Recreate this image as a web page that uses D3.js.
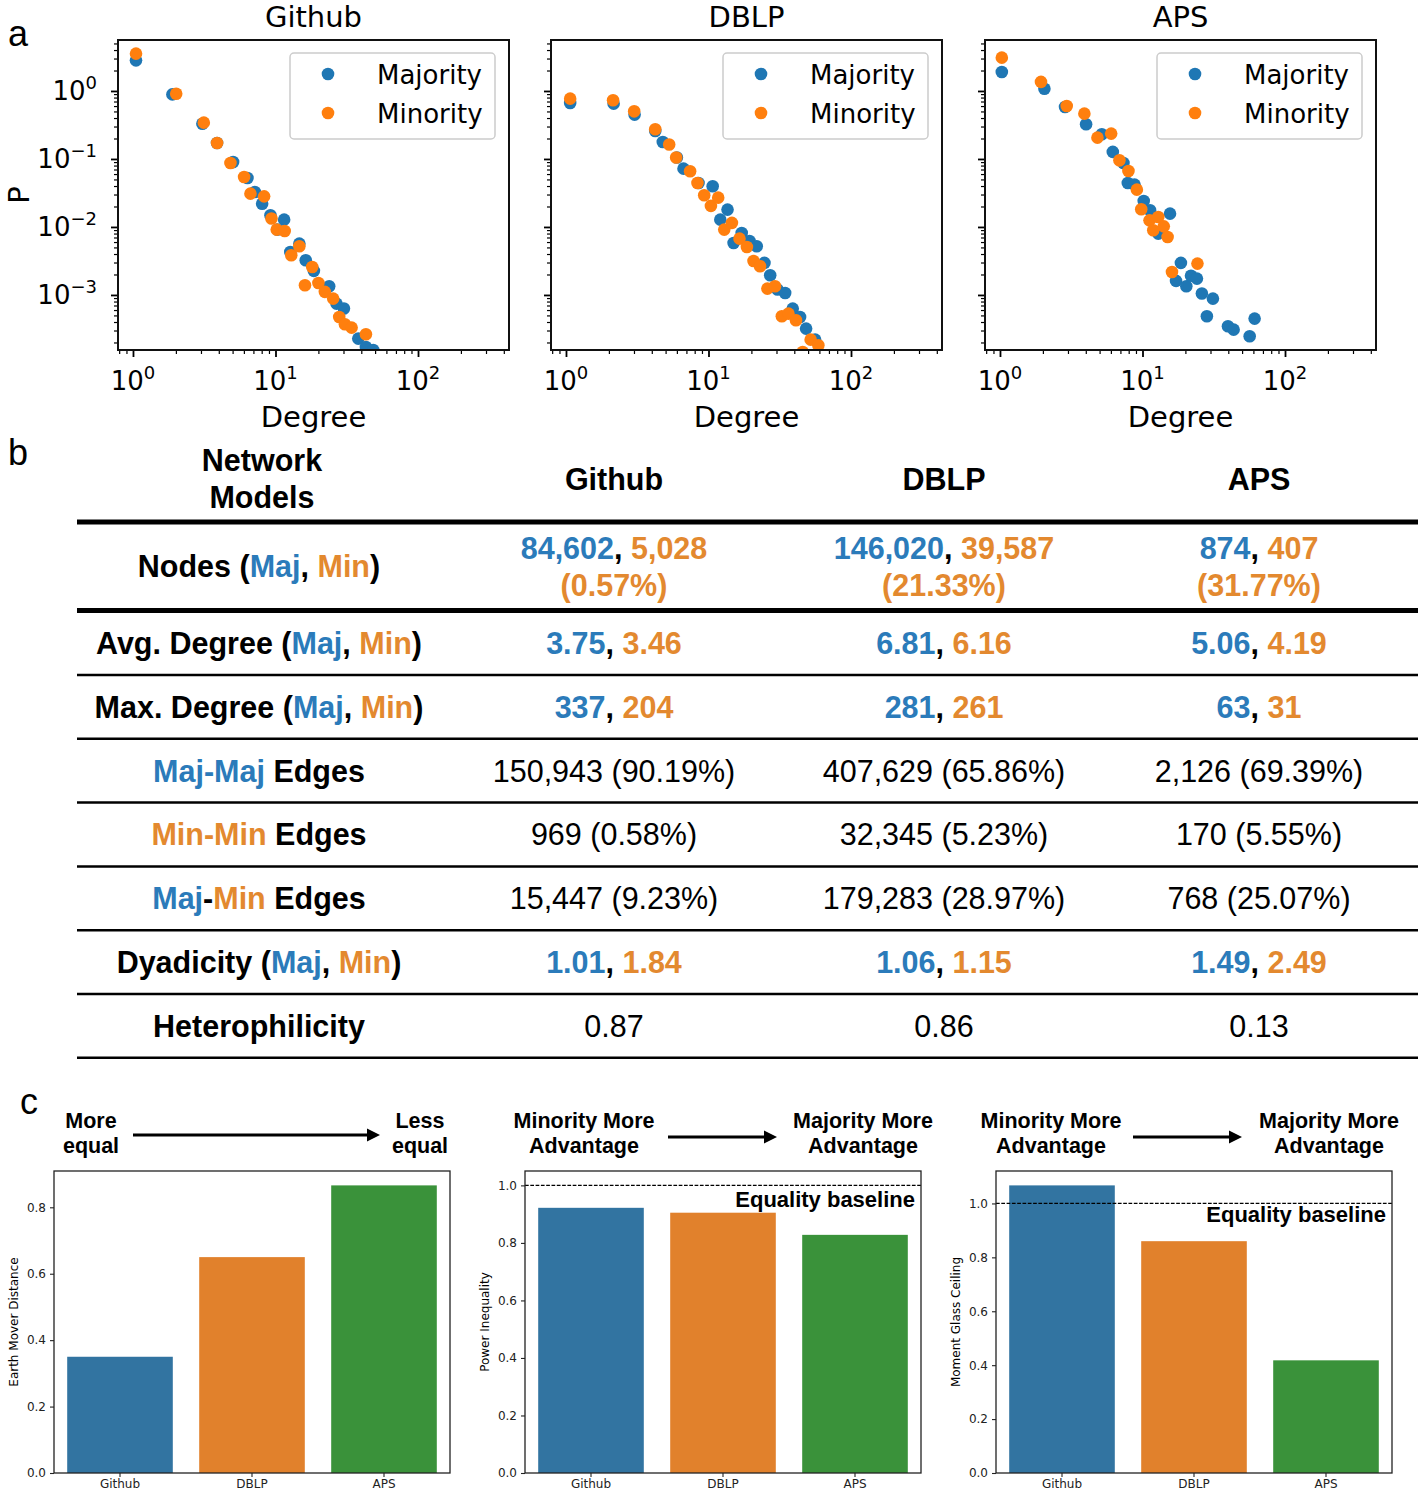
<!DOCTYPE html>
<html>
<head>
<meta charset="utf-8">
<script src="https://cdn.jsdelivr.net/npm/d3@7"></script>
<style>
    body { margin: 0; background: #fff; }
    svg { display: block; }
</style>
</head>
<body>
<svg id="fig" width="1424" height="1492"></svg>
<script>
/** ------------- DATA -------------- */

const networks = ["Github", "DBLP", "APS"];

// panel a: degree distributions, [degree, P]
const githubMaj = [[1.05, 2.82], [1.89, 0.89], [3.07, 0.33], [3.89, 0.172], [5.04, 0.09], [6.36, 0.0526], [7.16, 0.0327], [8.06, 0.022], [9.22, 0.0149], [10.3, 0.00914], [11.5, 0.0128], [12.7, 0.00429], [14.7, 0.00569], [16.3, 0.00324], [18.6, 0.00226], [23.8, 0.00134], [26.8, 0.000746], [30.2, 0.000631], [38.1, 0.000228], [43.1, 0.000172], [48.5, 0.000155]];
const githubMin = [[1.05, 3.54], [2.01, 0.91], [3.14, 0.342], [3.89, 0.172], [4.83, 0.0873], [6.02, 0.0543], [6.67, 0.0309], [8.32, 0.0282], [9.37, 0.0133], [10.2, 0.00914], [11.6, 0.00873], [12.9, 0.00383], [14.7, 0.0052], [16.1, 0.00139], [18.1, 0.00258], [20.0, 0.0015], [22.2, 0.00111], [25.4, 0.000883], [28.0, 0.000475], [30.7, 0.000371], [34.2, 0.000331], [43.1, 0.000264]];
const dblpMaj = [[1.07, 0.667], [2.16, 0.651], [3.03, 0.449], [4.23, 0.258], [4.78, 0.178], [6.0, 0.105], [6.68, 0.0721], [8.51, 0.0444], [10.7, 0.0396], [12.1, 0.0128], [13.6, 0.018], [15.0, 0.00582], [17.1, 0.00816], [19.4, 0.00622], [21.8, 0.0052], [24.7, 0.00296], [27.1, 0.00195], [30.5, 0.0012], [34.5, 0.00107], [39.0, 0.00063], [43.9, 0.000475], [48.4, 0.00032], [56.0, 0.00022]];
const dblpMin = [[1.07, 0.771], [2.14, 0.73], [3.01, 0.502], [4.23, 0.273], [5.3, 0.163], [5.93, 0.105], [7.43, 0.0659], [8.37, 0.0444], [9.33, 0.0292], [10.4, 0.0204], [11.7, 0.027], [12.9, 0.00914], [14.6, 0.0115], [16.5, 0.00673], [18.6, 0.00508], [20.7, 0.00316], [23.0, 0.00264], [25.9, 0.00124], [29.3, 0.00134], [32.7, 0.000485], [36.4, 0.000531], [41.1, 0.000424], [45.8, 0.000145], [52.1, 0.00022], [59.0, 0.000182]];
const apsMaj = [[1.03, 1.9], [2.05, 1.08], [2.86, 0.582], [4.02, 0.324], [5.18, 0.231], [6.19, 0.127], [7.35, 0.0873], [7.89, 0.0444], [8.79, 0.042], [10.2, 0.0241], [11.3, 0.0176], [12.9, 0.00798], [15.6, 0.0157], [17.2, 0.00161], [18.6, 0.00296], [20.3, 0.00134], [21.9, 0.00192], [24.1, 0.00174], [26.1, 0.00105], [28.3, 0.000485], [31.2, 0.000883], [39.8, 0.000346], [43.6, 0.000309], [56.5, 0.000247], [61.2, 0.000449]];
const apsMin = [[1.03, 3.09], [1.94, 1.36], [2.94, 0.601], [3.91, 0.464], [4.83, 0.206], [6.03, 0.236], [6.89, 0.0955], [7.97, 0.0666], [9.13, 0.0354], [9.8, 0.0182], [11.2, 0.0125], [11.9, 0.00893], [12.9, 0.014], [14.1, 0.0102], [15.0, 0.00713], [16.1, 0.00218], [24.3, 0.00289]];

// panel b: network statistics (Github, DBLP, APS)
const nodesMaj = [84602, 146020, 874];
const nodesMin = [5028, 39587, 407];
const minShare = [0.57, 21.33, 31.77];
const avgDegMaj = [3.75, 6.81, 5.06];
const avgDegMin = [3.46, 6.16, 4.19];
const maxDegMaj = [337, 281, 63];
const maxDegMin = [204, 261, 31];
const majMajEdges = [150943, 407629, 2126];
const majMajPct = [90.19, 65.86, 69.39];
const minMinEdges = [969, 32345, 170];
const minMinPct = [0.58, 5.23, 5.55];
const majMinEdges = [15447, 179283, 768];
const majMinPct = [9.23, 28.97, 25.07];
const dyadMaj = [1.01, 1.06, 1.49];
const dyadMin = [1.84, 1.15, 2.49];
const heterophilicity = [0.87, 0.86, 0.13];

// panel c: inequality metrics
const earthMover = [0.35, 0.65, 0.866];
const powerInequality = [0.922, 0.905, 0.828];
const glassCeiling = [1.067, 0.86, 0.418];

/** ------------- SETUP -------------- */

const svg = d3.select("#fig");
const MPL = "DejaVu Sans, sans-serif";
const HELV = "Liberation Sans, Arial, Helvetica, sans-serif";
const BLUE = "#1f77b4";
const ORANGE = "#ff7f0e";
const TBLUE = "#2b7bba";
const TORANGE = "#e3892f";
const barColors = ["#3274a1", "#e1812c", "#3a923a"];

// panel letters
[["a", 8, 46], ["b", 8, 465], ["c", 20, 1114]].forEach(([l, x, y]) => {
    svg.append("text").attr("x", x).attr("y", y).text(l)
        .style("font-family", HELV).style("font-size", "36px");
});

/** ------------- PANEL A -------------- */

const aTop = 40;
const aBottom = 350;
const aW = 391;
const sup = { "0": "0", "1": "1", "2": "2", "-1": "\u22121", "-2": "\u22122", "-3": "\u22123" };

/**
 * Draw one degree distribution plot on log-log axes
 */
function drawDist(left, title, maj, min, idx, showY) {
    const x = d3.scaleLog().domain([0.785, 435]).range([left, left + aW]);
    const y = d3.scaleLog().domain([1.55e-4, 5.62]).range([aBottom, aTop]);
    const g = svg.append("g");

    const clipId = "clip" + idx;
    g.append("clipPath").attr("id", clipId)
        .append("rect").attr("x", left).attr("y", aTop).attr("width", aW).attr("height", aBottom - aTop);

    // minor / major ticks
    const xMinor = [];
    const yMinor = [];
    for (let k = -5; k <= 3; k++) {
        for (let m = 2; m <= 9; m++) {
            const v = m * Math.pow(10, k);
            if (v >= x.domain()[0] && v <= x.domain()[1]) xMinor.push(v);
            if (v >= y.domain()[0] && v <= y.domain()[1]) yMinor.push(v);
        }
    }
    const xMajor = [1, 10, 100];
    const yMajor = [1, 0.1, 0.01, 0.001];

    const styleAxis = (sel, w) => {
        sel.select(".domain").remove();
        sel.selectAll("line").attr("stroke", "#000").attr("stroke-width", w);
    };
    g.append("g").attr("transform", `translate(0,${aBottom})`)
        .call(d3.axisBottom(x).tickValues(xMinor).tickSize(4).tickFormat(""))
        .call(s => styleAxis(s, 1.2));
    g.append("g").attr("transform", `translate(0,${aBottom})`)
        .call(d3.axisBottom(x).tickValues(xMajor).tickSize(7).tickFormat(""))
        .call(s => styleAxis(s, 1.8));
    g.append("g").attr("transform", `translate(${left},0)`)
        .call(d3.axisLeft(y).tickValues(yMinor).tickSize(4).tickFormat(""))
        .call(s => styleAxis(s, 1.2));
    g.append("g").attr("transform", `translate(${left},0)`)
        .call(d3.axisLeft(y).tickValues(yMajor).tickSize(7).tickFormat(""))
        .call(s => styleAxis(s, 1.8));

    // x tick labels
    xMajor.forEach(v => {
        const t = g.append("text").attr("x", x(v)).attr("y", 390)
            .attr("text-anchor", "middle").style("font-family", MPL).style("font-size", "26px");
        t.append("tspan").text("10");
        t.append("tspan").attr("dy", -11).style("font-size", "18px").text(sup[Math.round(Math.log10(v))]);
    });
    if (showY) {
        yMajor.forEach(v => {
            const t = g.append("text").attr("x", 97).attr("y", y(v) + 9.5)
                .attr("text-anchor", "end").style("font-family", MPL).style("font-size", "26px");
            t.append("tspan").text("10");
            t.append("tspan").attr("dy", -11).style("font-size", "18px").text(sup[Math.round(Math.log10(v))]);
        });
        g.append("text").attr("transform", `translate(29,195) rotate(-90)`)
            .attr("text-anchor", "middle").style("font-family", MPL).style("font-size", "29px").text("P");
    }

    // points
    const pts = g.append("g").attr("clip-path", `url(#${clipId})`);
    pts.selectAll(".maj").data(maj).join("circle").attr("class", "maj")
        .attr("cx", d => x(d[0])).attr("cy", d => y(d[1])).attr("r", 6.3).attr("fill", BLUE);
    pts.selectAll(".min").data(min).join("circle").attr("class", "min")
        .attr("cx", d => x(d[0])).attr("cy", d => y(d[1])).attr("r", 6.3).attr("fill", ORANGE);

    // frame
    g.append("rect").attr("x", left).attr("y", aTop).attr("width", aW).attr("height", aBottom - aTop)
        .attr("fill", "none").attr("stroke", "#111").attr("stroke-width", 2);

    // title and label
    g.append("text").attr("x", left + aW / 2).attr("y", 27).attr("text-anchor", "middle")
        .style("font-family", MPL).style("font-size", "29px").text(title);
    g.append("text").attr("x", left + aW / 2).attr("y", 427).attr("text-anchor", "middle")
        .style("font-family", MPL).style("font-size", "29px").text("Degree");

    // legend
    const lx = left + aW - 219;
    g.append("rect").attr("x", lx).attr("y", 53).attr("width", 205).attr("height", 86).attr("rx", 4)
        .attr("fill", "#fff").attr("fill-opacity", 0.8).attr("stroke", "#ccc").attr("stroke-width", 1.5);
    [["Majority", BLUE, 74], ["Minority", ORANGE, 113]].forEach(([name, c, cy]) => {
        g.append("circle").attr("cx", lx + 38).attr("cy", cy).attr("r", 6.3).attr("fill", c);
        g.append("text").attr("x", lx + 87).attr("y", cy + 9.5)
            .style("font-family", MPL).style("font-size", "26px").text(name);
    });
}

drawDist(118, "Github", githubMaj, githubMin, 0, true);
drawDist(551, "DBLP", dblpMaj, dblpMin, 1, false);
drawDist(985, "APS", apsMaj, apsMin, 2, false);

/** ------------- PANEL B (TABLE) -------------- */

const K = "#000";
const fmt = d3.format(",");
const f2 = v => v.toFixed(2);
const labelX = 259;
const colX = [614, 944, 1259];
const TF = 30.5;

/**
 * Write a centered line of coloured pieces
 */
function rich(x, cy, parts, bold) {
    const t = svg.append("text").attr("x", x).attr("y", cy + TF * 0.358)
        .attr("text-anchor", "middle").style("font-family", HELV).style("font-size", TF + "px")
        .style("font-weight", bold ? "bold" : "normal");
    parts.forEach(p => t.append("tspan").attr("fill", p[1]).text(p[0]));
}

const hline = (y, w) => svg.append("line").attr("x1", 77).attr("x2", 1418).attr("y1", y).attr("y2", y)
    .attr("stroke", "#000").attr("stroke-width", w);

// header
rich(262, 460, [["Network", K]], true);
rich(262, 497, [["Models", K]], true);
networks.forEach((n, i) => rich(colX[i], 479, [[n, K]], true));
hline(522, 5);

// nodes row
rich(labelX, 566, [["Nodes (", K], ["Maj", TBLUE], [", ", K], ["Min", TORANGE], [")", K]], true);
networks.forEach((n, i) => {
    rich(colX[i], 548, [[fmt(nodesMaj[i]), TBLUE], [", ", K], [fmt(nodesMin[i]), TORANGE]], true);
    rich(colX[i], 585, [["(" + f2(minShare[i]) + "%)", TORANGE]], true);
});
hline(610.5, 5);

const majMin = [["Maj", TBLUE], [", ", K], ["Min", TORANGE], [")", K]];
const rows = [
    { label: [["Avg. Degree (", K], ...majMin], bold: true,
      cell: i => [[f2(avgDegMaj[i]), TBLUE], [", ", K], [f2(avgDegMin[i]), TORANGE]] },
    { label: [["Max. Degree (", K], ...majMin], bold: true,
      cell: i => [[String(maxDegMaj[i]), TBLUE], [", ", K], [String(maxDegMin[i]), TORANGE]] },
    { label: [["Maj-Maj", TBLUE], [" Edges", K]], bold: false,
      cell: i => [[fmt(majMajEdges[i]) + " (" + f2(majMajPct[i]) + "%)", K]] },
    { label: [["Min-Min", TORANGE], [" Edges", K]], bold: false,
      cell: i => [[fmt(minMinEdges[i]) + " (" + f2(minMinPct[i]) + "%)", K]] },
    { label: [["Maj", TBLUE], ["-", K], ["Min", TORANGE], [" Edges", K]], bold: false,
      cell: i => [[fmt(majMinEdges[i]) + " (" + f2(majMinPct[i]) + "%)", K]] },
    { label: [["Dyadicity (", K], ...majMin], bold: true,
      cell: i => [[f2(dyadMaj[i]), TBLUE], [", ", K], [f2(dyadMin[i]), TORANGE]] },
    { label: [["Heterophilicity", K]], bold: false,
      cell: i => [[f2(heterophilicity[i]), K]] },
];
const rowY = d3.scaleLinear().domain([0, 1]).range([643, 706.8]);
rows.forEach((r, j) => {
    const cy = rowY(j);
    rich(labelX, cy, r.label, true);
    networks.forEach((n, i) => rich(colX[i], cy, r.cell(i), r.bold));
    hline(cy + 32, 2.5);
});

/** ------------- PANEL C -------------- */

const cTop = 1171;
const cBottom = 1473;
const cW = 396;

/**
 * Draw one bar chart with the direction annotation above it
 */
function drawBars(left, values, yLabel, showBase, leftText, rightText, leftCx, rightCx, arrow, baseLabelY) {
    const g = svg.append("g");
    const ymax = d3.max(showBase ? values.concat([1]) : values) * 1.05;
    const x = d3.scaleBand().domain(networks).range([left, left + cW]).paddingInner(0.2).paddingOuter(0.1);
    const y = d3.scaleLinear().domain([0, ymax]).range([cBottom, cTop]);

    g.selectAll("rect.bar").data(values).join("rect").attr("class", "bar")
        .attr("x", (d, i) => x(networks[i])).attr("width", x.bandwidth())
        .attr("y", d => y(d)).attr("height", d => cBottom - y(d))
        .attr("fill", (d, i) => barColors[i]);

    g.append("g").attr("transform", `translate(${left},0)`)
        .call(d3.axisLeft(y).tickValues(d3.range(0, ymax, 0.2)).tickSize(4).tickPadding(4).tickFormat(d3.format(".1f")))
        .call(s => {
            s.select(".domain").remove();
            s.selectAll("line").attr("stroke", "#222").attr("stroke-width", 1.1);
            s.selectAll("text").style("font-family", MPL).style("font-size", "12px").attr("fill", "#222");
        });
    networks.forEach(n => {
        g.append("text").attr("x", x(n) + x.bandwidth() / 2).attr("y", 1488).attr("text-anchor", "middle")
            .style("font-family", MPL).style("font-size", "12px").attr("fill", "#222").text(n);
        g.append("line").attr("x1", x(n) + x.bandwidth() / 2).attr("x2", x(n) + x.bandwidth() / 2)
            .attr("y1", cBottom).attr("y2", cBottom + 4).attr("stroke", "#222").attr("stroke-width", 1.1);
    });

    if (showBase) {
        g.append("line").attr("x1", left).attr("x2", left + cW).attr("y1", y(1)).attr("y2", y(1))
            .attr("stroke", "#000").attr("stroke-width", 1.2).attr("stroke-dasharray", "3.7,1.6");
        g.append("text").attr("x", left + cW - 6).attr("y", baseLabelY).attr("text-anchor", "end")
            .style("font-family", HELV).style("font-size", "22px").style("font-weight", "bold").text("Equality baseline");
    }

    g.append("rect").attr("x", left).attr("y", cTop).attr("width", cW).attr("height", cBottom - cTop)
        .attr("fill", "none").attr("stroke", "#222").attr("stroke-width", 1.3);

    g.append("text").attr("transform", `translate(${left - 36},${(cTop + cBottom) / 2}) rotate(-90)`)
        .attr("text-anchor", "middle").style("font-family", MPL).style("font-size", "12px").text(yLabel);

    // annotation
    [[leftText, leftCx], [rightText, rightCx]].forEach(([lines, cx]) => {
        lines.forEach((l, k) => {
            g.append("text").attr("x", cx).attr("y", 1128 + k * 25).attr("text-anchor", "middle")
                .style("font-family", HELV).style("font-size", "21.5px").style("font-weight", "bold").text(l);
        });
    });
    const [ax1, ax2, ay] = arrow;
    g.append("line").attr("x1", ax1).attr("x2", ax2 - 12).attr("y1", ay).attr("y2", ay)
        .attr("stroke", "#000").attr("stroke-width", 2.8);
    g.append("path").attr("d", `M${ax2},${ay}L${ax2 - 13},${ay - 6.5}L${ax2 - 13},${ay + 6.5}Z`).attr("fill", "#000");
}

drawBars(54, earthMover, "Earth Mover Distance", false,
    ["More", "equal"], ["Less", "equal"], 91, 420, [133, 380, 1135]);
drawBars(525, powerInequality, "Power Inequality", true,
    ["Minority More", "Advantage"], ["Majority More", "Advantage"], 584, 863, [668, 777, 1137], 1207);
drawBars(996, glassCeiling, "Moment Glass Ceiling", true,
    ["Minority More", "Advantage"], ["Majority More", "Advantage"], 1051, 1329, [1133, 1242, 1137], 1222);
</script>
</body>
</html>
